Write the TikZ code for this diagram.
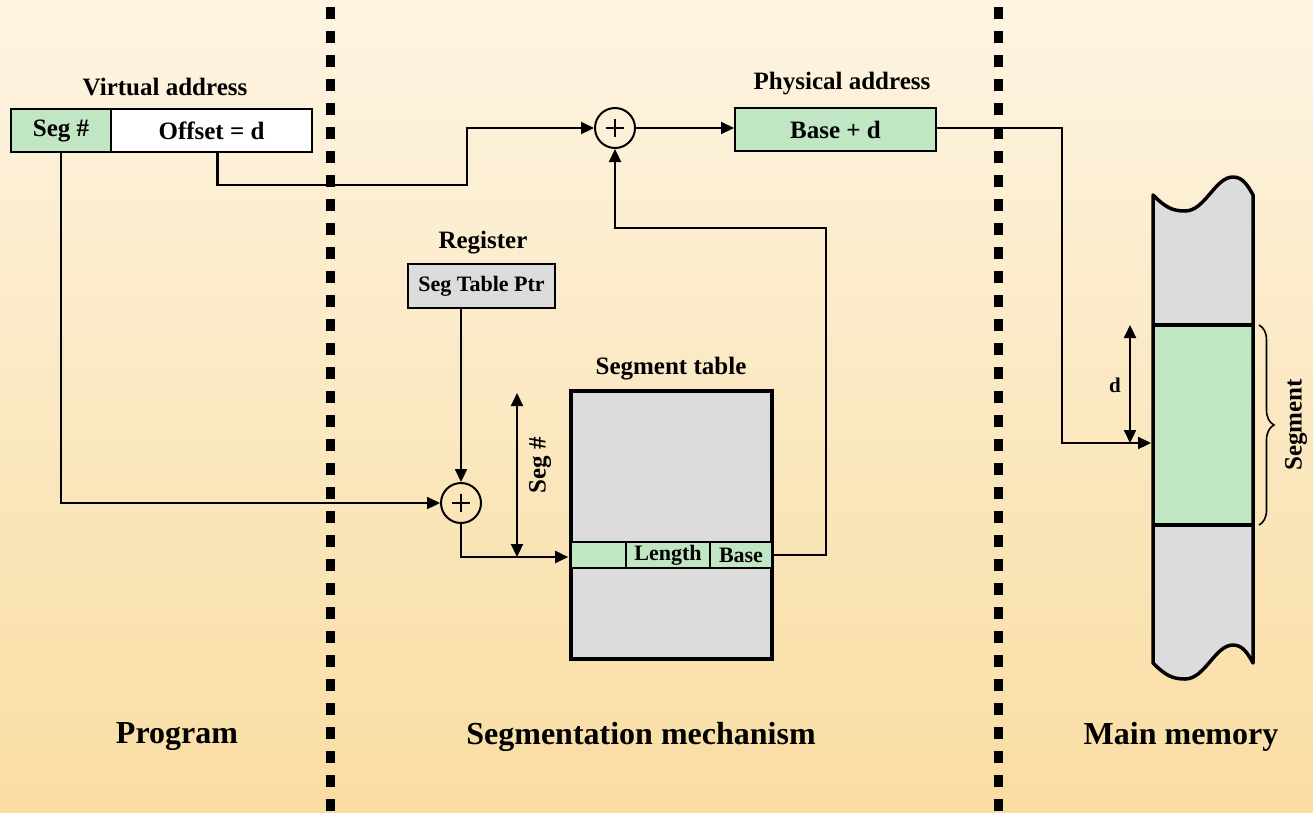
\documentclass[tikz,border=0pt]{standalone}
\usepackage{fontspec}
\setmainfont{Liberation Serif}
\usetikzlibrary{arrows.meta,decorations.pathreplacing}
\definecolor{bgtop}{RGB}{253,244,226}
\definecolor{bgbot}{RGB}{249,221,162}
\definecolor{cellgreen}{RGB}{192,230,196}
\definecolor{cellgray}{RGB}{220,220,220}
\newcommand{\fs}[1]{\fontsize{#1}{#1}\selectfont\bfseries}
\begin{document}
\begin{tikzpicture}[x=1pt,y=-1pt,
  cell/.style={draw, line width=2pt, inner sep=0pt, font=\fs{25}},
  smallcell/.style={draw, line width=1.6pt, inner sep=0pt, font=\fs{22}, fill=cellgreen},
  lbl/.style={inner sep=0pt, font=\fs{25}},
  biglbl/.style={inner sep=0pt, font=\fs{32}},
  adder/.style={draw, circle, line width=2pt, minimum size=40pt, inner sep=0pt},
  conn/.style={line width=2.2pt, -{Triangle[length=13pt,width=12pt]}},
  dbl/.style={line width=2.2pt, {Triangle[length=13pt,width=12pt]}-{Triangle[length=13pt,width=12pt]}},
  divider/.style={line width=9pt, dash pattern=on 12pt off 12pt}]

% background
\shade[top color=bgtop, bottom color=bgbot] (0,0) rectangle (1313,812);
\useasboundingbox (0,0) rectangle (1313,812);

% column dividers
\draw[divider] (330,7) -- (330,812);
\draw[divider] (998,7) -- (998,812);

% virtual address
\node[lbl] (valbl) at (165,87) {Virtual address};
\node[cell, fill=cellgreen, minimum width=100pt, minimum height=43pt] (seg) at (61,130.5) {Seg \#};
\node[cell, fill=white, minimum width=201pt, minimum height=43pt] (off) at (211.5,130.5) {Offset = d};

% adders
\node[adder] (add2) at (615,128) {};
\draw[line width=1.4pt] ([xshift=-9pt]add2.center) -- ([xshift=9pt]add2.center)
  ([yshift=-9pt]add2.center) -- ([yshift=9pt]add2.center);
\node[adder] (add1) at (461,503) {};
\draw[line width=1.4pt] ([xshift=-9pt]add1.center) -- ([xshift=9pt]add1.center)
  ([yshift=-9pt]add1.center) -- ([yshift=9pt]add1.center);

% physical address
\node[lbl] (palbl) at (842,84) {Physical address};
\node[cell, fill=cellgreen, minimum width=201pt, minimum height=43pt] (phys) at (835.5,129.5) {Base + d};

% register
\node[lbl] (reglbl) at (483,243) {Register};
\node[cell, fill=cellgray, minimum width=147pt, minimum height=44pt, font=\fs{22}] (reg) at (481.5,286) {Seg Table Ptr};

% segment table
\node[lbl] (tablbl) at (671,369) {Segment table};
\node[draw, line width=4pt, fill=cellgray, minimum width=201pt, minimum height=268pt, inner sep=0pt] (tab) at (671.5,525) {};
\node[smallcell, minimum width=55pt, minimum height=26pt] (blank) at (598.5,555) {};
\node[smallcell, minimum width=84pt, minimum height=26pt] (len) at (668,555) {Length};
\node[smallcell, minimum width=62pt, minimum height=26pt] (base) at (741,555) {Base};

% main memory
\fill[cellgray] (1153,195) .. controls (1165,207) and (1172,211) .. (1185,211)
  .. controls (1205,211) and (1215,177) .. (1233,177)
  .. controls (1243,177) and (1248,186) .. (1253,195)
  -- (1253,663) .. controls (1248,654) and (1243,645) .. (1233,645)
  .. controls (1215,645) and (1205,679) .. (1185,679)
  .. controls (1172,679) and (1165,675) .. (1153,663) -- cycle;
\fill[cellgreen] (1153,325) rectangle (1253,525);
\draw[line width=3.5pt, line join=round] (1153,195) .. controls (1165,207) and (1172,211) .. (1185,211)
  .. controls (1205,211) and (1215,177) .. (1233,177)
  .. controls (1243,177) and (1248,186) .. (1253,195)
  -- (1253,663) .. controls (1248,654) and (1243,645) .. (1233,645)
  .. controls (1215,645) and (1205,679) .. (1185,679)
  .. controls (1172,679) and (1165,675) .. (1153,663) -- cycle;
\draw[line width=4pt] (1153,325) -- (1253,325) (1153,525) -- (1253,525);
\coordinate (hit) at (1151,443);
\coordinate (dtop) at (1130,325);
\coordinate (dbot) at (1130,443);
\draw[dbl] (dtop) -- (dbot);
\node[inner sep=0pt, font=\fs{21}] (dlbl) at (1115,385) {d};
\draw[line width=1.6pt, decorate, decoration={brace, amplitude=15pt}] (1259,325) -- (1259,525);
\node[lbl, rotate=90] (seglbl) at (1296,425) {Segment};

% connectors
\coordinate (k1) at (467,185);
\coordinate (k2) at (1062,443);
\coordinate (k3) at (826,228);
\draw[conn] (seg.south) |- (add1.west);
\draw[conn] ([xshift=6pt]off.south) |- (k1) |- (add2.west);
\draw[conn] (add2.east) -- (add2.east -| phys.west);
\draw[conn] (add2.east -| phys.east) -| (k2) -- (hit);
\draw[conn] (add1 |- reg.south) -- (add1.north);
\draw[conn] (add1.south) |- ([xshift=-2pt,yshift=-2pt]blank.west);
\draw[conn] (base.east) -| (k3) -| (add2.south);

% seg # extent
\coordinate (stop) at (517,393);
\coordinate (sbot) at (517,557);
\draw[dbl] (stop) -- (sbot);
\node[lbl, rotate=90] (segnum) at (540,465) {Seg \#};

% column titles
\node[biglbl] (prog) at (177,737) {Program};
\node[biglbl] (mech) at (641,737) {Segmentation mechanism};
\node[biglbl] (mem) at (1181,737) {Main memory};
\end{tikzpicture}
\end{document}
